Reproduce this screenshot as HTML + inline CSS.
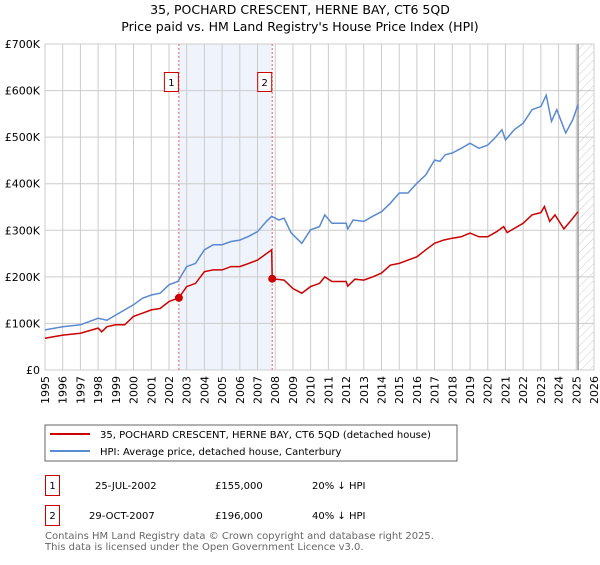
<!DOCTYPE html>
<html><head><meta charset="utf-8"><style>
body{margin:0;background:#fff;}
svg text{font-family:"DejaVu Sans","Liberation Sans",sans-serif;}
</style></head><body>
<svg id="c" width="600" height="560" xmlns="http://www.w3.org/2000/svg">
<defs><pattern id="hatch" width="6" height="6" patternUnits="userSpaceOnUse" patternTransform="rotate(45)"><line x1="0" y1="0" x2="0" y2="6" stroke="#ccc" stroke-width="1"/></pattern></defs>
<text x="300" y="14" text-anchor="middle" font-size="12.5" fill="#000">35, POCHARD CRESCENT, HERNE BAY, CT6 5QD</text>
<text x="300" y="31" text-anchor="middle" font-size="12.5" fill="#000">Price paid vs. HM Land Registry's House Price Index (HPI)</text>
<g id="plot"></g>
<g>
<rect x="45" y="425" width="412" height="36" fill="#fff" stroke="#666" stroke-width="1"/>
<line x1="50" y1="434" x2="90" y2="434" stroke="#cc0000" stroke-width="2"/>
<text x="100" y="438" font-size="10">35, POCHARD CRESCENT, HERNE BAY, CT6 5QD (detached house)</text>
<line x1="50" y1="451" x2="90" y2="451" stroke="#5a8ad0" stroke-width="2"/>
<text x="100" y="455" font-size="10">HPI: Average price, detached house, Canterbury</text>
</g>
<g font-size="10">
<rect x="45.5" y="475.5" width="14" height="20" fill="none" stroke="#cc0000"/>
<text x="52.5" y="489" text-anchor="middle">1</text>
<text x="95" y="489">25-JUL-2002</text>
<text x="215" y="489">£155,000</text>
<text x="312" y="489">20% ↓ HPI</text>
<rect x="45.5" y="505.5" width="14" height="20" fill="none" stroke="#cc0000"/>
<text x="52.5" y="519" text-anchor="middle">2</text>
<text x="89" y="519">29-OCT-2007</text>
<text x="215" y="519">£196,000</text>
<text x="312" y="519">40% ↓ HPI</text>
</g>
<text x="45" y="539" font-size="10" fill="#666">Contains HM Land Registry data © Crown copyright and database right 2025.</text>
<text x="45" y="550" font-size="10" fill="#666">This data is licensed under the Open Government Licence v3.0.</text>
</svg>
<script>
const hpiYears=[1995,1996,1997,1998,1998.5,1999,2000,2000.5,2001,2001.5,2002,2002.5,2003,2003.5,2004,2004.5,2005,2005.5,2006,2006.5,2007,2007.5,2007.8,2008.2,2008.5,2008.9,2009.5,2010,2010.5,2010.8,2011.2,2011.5,2012,2012.1,2012.4,2013,2013.5,2014,2014.5,2015,2015.5,2016,2016.5,2017,2017.3,2017.6,2018,2018.5,2019,2019.5,2020,2020.4,2020.8,2021,2021.5,2022,2022.5,2023,2023.3,2023.6,2023.9,2024.4,2024.8,2025.1];
const hpiValues=[86,93,97,111,107,118,140,154,161,165,183,190,222,229,258,269,269,276,279,287,297,319,330,322,326,294,272,301,308,333,315,315,315,303,322,319,330,340,358,380,380,401,419,451,448,462,466,476,487,476,483,498,516,494,516,530,559,566,590,534,559,509,537,570];
const propYears=[1995,1996,1997,1998,1998.2,1998.5,1999,1999.5,2000,2000.5,2001,2001.5,2002,2002.56,2003,2003.5,2004,2004.5,2005,2005.5,2006,2006.5,2007,2007.8,2007.83,2008.5,2009,2009.5,2010,2010.5,2010.8,2011.2,2012,2012.1,2012.5,2013,2013.5,2014,2014.5,2015,2015.5,2016,2016.5,2017,2017.5,2018,2018.5,2019,2019.5,2020,2020.5,2020.9,2021.1,2021.5,2022,2022.5,2023,2023.2,2023.5,2023.8,2024.3,2024.7,2025.1];
const propValues=[68,75,79,90,82,93,97,97,115,122,129,132,147,155,179,186,211,215,215,222,222,229,236,258,196,193,175,165,179,186,200,190,190,180,195,193,200,208,225,229,236,243,258,272,279,283,286,294,286,286,297,308,295,304,315,333,338,351,319,333,303,321,340];
const saleYears=[2002.56,2007.83];
const saleValues=[155,196];
const yTicks=[0,100,200,300,400,500,600,700];
const yTickLabels=["£0","£100K","£200K","£300K","£400K","£500K","£600K","£700K"];
const xTicks=[1995,1996,1997,1998,1999,2000,2001,2002,2003,2004,2005,2006,2007,2008,2009,2010,2011,2012,2013,2014,2015,2016,2017,2018,2019,2020,2021,2022,2023,2024,2025,2026];
const NS="http://www.w3.org/2000/svg";
const X0=45,X1=594,Y0=370,Y1=44,Ymin=1995,Ymax=2026;
const xs=y=>X0+(y-Ymin)/(Ymax-Ymin)*(X1-X0);
const ys=v=>Y0-v/700*(Y0-Y1);
const g=document.getElementById('plot');
function mk(t,a){const e=document.createElementNS(NS,t);for(const k in a)e.setAttribute(k,a[k]);g.appendChild(e);return e;}
let e;
e=mk('rect',{x:X0,y:Y1,width:X1-X0,height:Y0-Y1,fill:'#fff'});
e=mk('rect',{x:xs(saleYears[0]),y:Y1,width:xs(saleYears[1])-xs(saleYears[0]),height:Y0-Y1,fill:'#eef3fc'});


const fEnd=2025.1;
e=mk('rect',{x:xs(fEnd),y:Y1,width:X1-xs(fEnd),height:Y0-Y1,fill:'url(#hatch)'});


xTicks.forEach(t=>{
 e=mk('line',{x1:xs(t),x2:xs(t),y1:Y1,y2:Y0,stroke:'#ccc','stroke-width':1});
 
 
 const tx=mk('text',{x:0,y:0,'font-size':11,'text-anchor':'end',transform:`translate(${xs(t)+4},${Y0+6}) rotate(-90)`});
 tx.textContent=t;
 
 
});
yTicks.forEach((t,i)=>{
 e=mk('line',{x1:X0,x2:X1,y1:ys(t),y2:ys(t),stroke:'#ccc','stroke-width':1});
 
 
 const tx=mk('text',{x:X0-5,y:ys(t)+4,'font-size':11,'text-anchor':'end'});
 tx.textContent=yTickLabels[i];
 
 
});
e=mk('line',{x1:xs(fEnd),x2:xs(fEnd),y1:Y1,y2:Y0,stroke:'#999','stroke-width':1.5});


saleYears.forEach((s,i)=>{
 e=mk('line',{x1:xs(s),x2:xs(s),y1:Y1,y2:Y0,stroke:'#f06060','stroke-width':1,'stroke-dasharray':'2,2'});
 
 
 e=mk('rect',{x:xs(s)-14.5,y:72.5,width:14,height:19,fill:'#fff',stroke:'#cc0000'});
 
 
 const tx=mk('text',{x:xs(s)-7.5,y:86,'font-size':10,'text-anchor':'middle'});
 tx.textContent=String(i+1);
 
 
});
function pts(a,b){return a.map((y,i)=>xs(y).toFixed(1)+','+ys(b[i]).toFixed(1)).join(' ');}
e=mk('polyline',{points:pts(hpiYears,hpiValues),fill:'none',stroke:'#5a8ad0','stroke-width':1.5});


e=mk('polyline',{points:pts(propYears,propValues),fill:'none',stroke:'#cc0000','stroke-width':1.5});


saleYears.forEach((s,i)=>{
 e=mk('circle',{cx:xs(s),cy:ys(saleValues[i]),r:4,fill:'#cc0000'});
 
 
});
</script>
</body></html>
